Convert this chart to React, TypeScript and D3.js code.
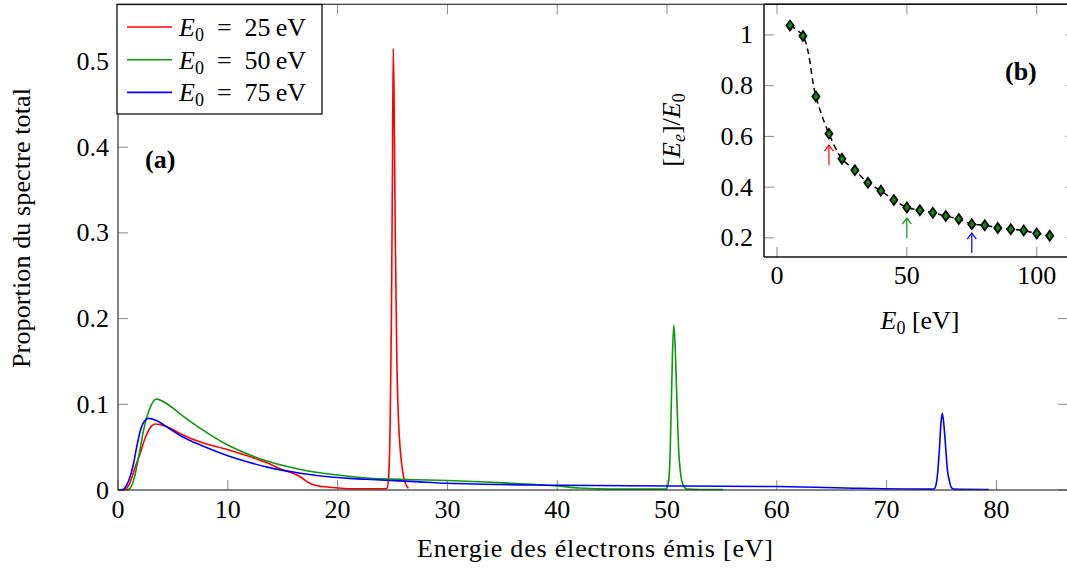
import React from 'react';
import * as d3 from 'd3';

// ---------- data ----------
const xTicksMain = [0, 10, 20, 30, 40, 50, 60, 70, 80];
const yTicksMain = [0, 0.1, 0.2, 0.3, 0.4, 0.5];
const xTicksInset = [0, 50, 100];
const yTicksInset = [0.2, 0.4, 0.6, 0.8, 1];

const e25X = [0.3, 0.7, 1.0, 1.3, 1.6, 2.0, 2.4, 2.9, 3.4, 4.4, 5.95, 7.5, 10, 12, 13.5, 15, 16.6, 17.3, 17.8, 18.6, 19.6, 21, 24.3,
  24.5, 24.65, 24.8, 24.9, 25.0, 25.07, 25.15, 25.25, 25.4, 25.55, 25.7, 25.84, 26.0, 26.2, 26.45];
const e25Y = [0, 0.001, 0.006, 0.016, 0.028, 0.042, 0.058, 0.072, 0.077, 0.074, 0.064, 0.056, 0.047, 0.039, 0.032, 0.0235, 0.0155, 0.009, 0.006, 0.004, 0.003, 0.0015, 0.0015,
  0.002, 0.015, 0.09, 0.2, 0.38, 0.515, 0.45, 0.3, 0.148, 0.08, 0.048, 0.03, 0.016, 0.007, 0.002];

const e50X = [0.8, 1.1, 1.5, 1.9, 2.3, 2.8, 3.5, 4.4, 5.95, 7.5, 10, 12, 13.5, 16.6, 19.6, 22.6, 27, 30, 36, 40, 42, 45, 49.9,
  50.15, 50.3, 50.4, 50.5, 50.62, 50.75, 50.9, 51.05, 51.25, 51.5, 51.8, 53, 55.1];
const e50Y = [0, 0.002, 0.015, 0.04, 0.068, 0.092, 0.106, 0.101, 0.086, 0.072, 0.0525, 0.041, 0.034, 0.024, 0.018, 0.014, 0.012, 0.011, 0.0078, 0.0047, 0.0023, 0.001, 0.001,
  0.01, 0.05, 0.105, 0.16, 0.1925, 0.165, 0.105, 0.05, 0.018, 0.005, 0.001, 0.0005, 0.0005];

const e75X = [0, 0.5, 0.8, 1.1, 1.4, 1.7, 2.15, 2.76, 3.5, 4.4, 5.95, 7.5, 10, 12, 13.5, 16.6, 19.6, 22.6, 27, 30, 40, 50, 60, 67.6, 73.6, 74.3,
  74.5, 74.65, 74.8, 74.95, 75.07, 75.2, 75.4, 75.55, 75.7, 75.85, 76.1, 79.3];
const e75Y = [0, 0.001, 0.006, 0.0156, 0.03, 0.05, 0.074, 0.0836, 0.081, 0.074, 0.0615, 0.0525, 0.04, 0.032, 0.027, 0.0195, 0.0148, 0.0125, 0.0098, 0.0078, 0.0056, 0.0047, 0.004, 0.002, 0.001, 0.001,
  0.006, 0.02, 0.046, 0.078, 0.0895, 0.078, 0.046, 0.022, 0.012, 0.004, 0.001, 0.0005];

const seriesE0 = [25, 50, 75];
const seriesColors = ['#ff0000', '#0a9a0a', '#0000ff'];

const insetE0 = [5, 10, 15, 20, 25, 30, 35, 40, 45, 50, 55, 60, 65, 70, 75, 80, 85, 90, 95, 100, 105];
const insetRatio = [1.037, 0.996, 0.757, 0.611, 0.512, 0.467, 0.417, 0.386, 0.349, 0.32, 0.309, 0.299, 0.286, 0.274, 0.254, 0.25, 0.239, 0.234, 0.229, 0.217, 0.208];

const arrowE0 = [20, 50, 75];
const arrowFrom = [0.487, 0.199, 0.14];
const arrowTo = [0.566, 0.278, 0.219];

const FONT = '"Liberation Serif", serif';

function zip(xs: number[], ys: number[]): [number, number][] {
  return xs.map((x, i) => [x, ys[i]] as [number, number]);
}

export default function App() {
  const W = 1067, H = 570;
  // main axes
  const mL = 118, mR = 1068, mT = 4.3, mB = 490;
  const x = d3.scaleLinear().domain([0, 86.52]).range([mL, mR]);
  const y = d3.scaleLinear().domain([0, 0.5667]).range([mB, mT]);
  // inset axes
  const iL = 764, iR = 1075.7, iT = 4.3, iB = 257;
  const xi = d3.scaleLinear().domain([-5, 115]).range([iL, iR]);
  const yi = d3.scaleLinear().domain([0.1245, 1.121]).range([iB, iT]);

  const line = d3.line<[number, number]>().x(d => x(d[0])).y(d => y(d[1])).curve(d3.curveMonotoneX);
  const series = [zip(e25X, e25Y), zip(e50X, e50Y), zip(e75X, e75Y)];

  const insetLine = d3.line<[number, number]>().x(d => xi(d[0])).y(d => yi(d[1])).curve(d3.curveCatmullRom);
  const insetPts = zip(insetE0, insetRatio);

  const tick = 10;
  const tickColor = '#8a8a8a';
  const fs = 26;
  const sub = 18;

  return (
    <svg width={W} height={H} style={{ position: 'absolute', left: 0, top: 0, background: '#fff' }}
      fontFamily={FONT}>
      {/* main ticks */}
      {xTicksMain.map(t => (
        <g key={'xt' + t}>
          <line x1={x(t)} x2={x(t)} y1={mB} y2={mB - tick} stroke={tickColor} strokeWidth={1} />
          <line x1={x(t)} x2={x(t)} y1={mT} y2={mT + tick} stroke={tickColor} strokeWidth={1} />
          <text x={x(t)} y={518} fontSize={fs} textAnchor="middle">{t}</text>
        </g>
      ))}
      {yTicksMain.map(t => (
        <g key={'yt' + t}>
          <line x1={mL} x2={mL + tick} y1={y(t)} y2={y(t)} stroke={tickColor} strokeWidth={1} />
          <line x1={mR} x2={mR - tick} y1={y(t)} y2={y(t)} stroke={tickColor} strokeWidth={1} />
          <text x={mL - 9} y={y(t) + 8.5} fontSize={fs} textAnchor="end">{t}</text>
        </g>
      ))}
      {/* curves */}
      {series.map((s, i) => (
        <path key={'s' + i} d={line(s) || ''} fill="none" stroke={seriesColors[i]} strokeWidth={1.6} strokeLinejoin="round" />
      ))}
      {/* main frame */}
      <rect x={mL} y={mT} width={mR - mL} height={mB - mT} fill="none" stroke="#333" strokeWidth={1.2} />

      {/* axis labels */}
      <text x={595} y={557} fontSize={fs} textAnchor="middle" textLength={356} lengthAdjust="spacing">Energie des électrons émis [eV]</text>
      <text transform="translate(30,228) rotate(-90)" fontSize={fs} textAnchor="middle" textLength={280} lengthAdjust="spacing">Proportion du spectre total</text>

      {/* (a) */}
      <text x={145} y={168} fontSize={fs} fontWeight="bold">(a)</text>

      {/* legend */}
      <rect x={117} y={4.5} width={205} height={109.5} fill="#fff" stroke="#111" strokeWidth={1.3} />
      {seriesE0.map((e, i) => {
        const ly = 27 + i * 32.7;
        return (
          <g key={'lg' + i}>
            <line x1={127} x2={172} y1={ly} y2={ly} stroke={seriesColors[i]} strokeWidth={1.6} />
            <text x={179} y={ly + 9} fontSize={fs}>
              <tspan fontStyle="italic">E</tspan>
              <tspan fontSize={sub} dy={5}>0</tspan>
              <tspan dy={-5}>{'\u2002=\u2002' + e + '\u2009eV'}</tspan>
            </text>
          </g>
        );
      })}

      {/* inset */}
      <rect x={iL} y={iT} width={iR - iL} height={iB - iT} fill="#fff" stroke="none" />
      {xTicksInset.map(t => (
        <g key={'xit' + t}>
          <line x1={xi(t)} x2={xi(t)} y1={iB} y2={iB - tick} stroke={tickColor} strokeWidth={1} />
          <line x1={xi(t)} x2={xi(t)} y1={iT} y2={iT + tick} stroke={tickColor} strokeWidth={1} />
          <text x={xi(t)} y={284} fontSize={fs} textAnchor="middle">{t}</text>
        </g>
      ))}
      {yTicksInset.map(t => (
        <g key={'yit' + t}>
          <line x1={iL} x2={iL + tick} y1={yi(t)} y2={yi(t)} stroke={tickColor} strokeWidth={1} />
          <line x1={iR} x2={iR - tick} y1={yi(t)} y2={yi(t)} stroke={tickColor} strokeWidth={1} />
          <text x={iL - 11} y={yi(t) + 8.5} fontSize={fs} textAnchor="end">{t}</text>
        </g>
      ))}
      <path d={insetLine(insetPts) || ''} fill="none" stroke="#000" strokeWidth={1.5} strokeDasharray="6,4" />
      {insetPts.map((p, i) => (
        <path key={'m' + i} transform={`translate(${xi(p[0])},${yi(p[1])})`}
          d="M0,-5L3.6,0L0,5L-3.6,0Z" fill="#0c8c0c" stroke="#000" strokeWidth={1.7} />
      ))}
      {arrowE0.map((a, i) => {
        const ax = xi(a), y0 = yi(arrowFrom[i]), y1 = yi(arrowTo[i]);
        return (
          <g key={'ar' + i} stroke={seriesColors[i]} strokeWidth={1.2} fill="none">
            <line x1={ax} x2={ax} y1={y0} y2={y1} />
            <path d={`M${ax - 4.5},${y1 + 6}Q${ax - 1.5},${y1 + 2} ${ax},${y1}Q${ax + 1.5},${y1 + 2} ${ax + 4.5},${y1 + 6}`} />
          </g>
        );
      })}
      <line x1={iL} x2={iL} y1={iT} y2={iB} stroke="#111" strokeWidth={1.5} />
      <line x1={iL} x2={iR} y1={iB} y2={iB} stroke="#111" strokeWidth={1.5} />
      <line x1={iL} x2={iR} y1={iT} y2={iT} stroke="#111" strokeWidth={1.5} />
      <text x={1005} y={80} fontSize={fs} fontWeight="bold">(b)</text>
      <text x={920} y={329} fontSize={fs} textAnchor="middle">
        <tspan fontStyle="italic">E</tspan>
        <tspan fontSize={sub} dy={5}>0</tspan>
        <tspan dy={-5}>{'  [eV]'}</tspan>
      </text>
      <text transform="translate(680,130) rotate(-90)" fontSize={fs} textAnchor="middle">
        <tspan>[</tspan>
        <tspan fontStyle="italic">E</tspan>
        <tspan fontSize={sub} fontStyle="italic" dy={5}>e</tspan>
        <tspan dy={-5}>]/</tspan>
        <tspan fontStyle="italic">E</tspan>
        <tspan fontSize={sub} dy={5}>0</tspan>
      </text>
    </svg>
  );
}
